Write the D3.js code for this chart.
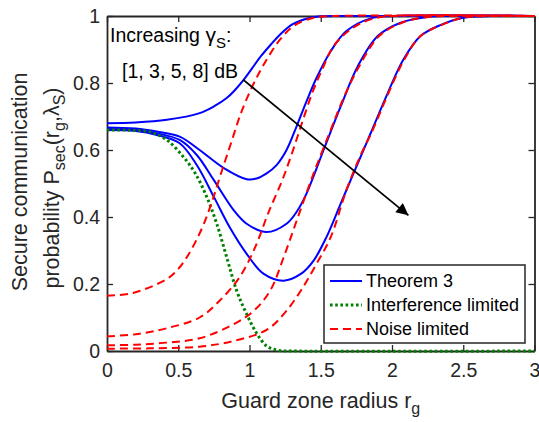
<!DOCTYPE html>
<html>
<head>
<meta charset="utf-8">
<script src="https://cdn.jsdelivr.net/npm/d3@7"></script>
<style>
  body { margin: 0; background: #fff; }
  text { font-family: "Liberation Sans", Arial, Helvetica, sans-serif; }
</style>
</head>
<body>
<div id="chart"></div>
<script>
// values: [guard zone radius r_g, P_sec]
const xTicks = [0, 0.5, 1, 1.5, 2, 2.5, 3];
const yTicks = [0, 0.2, 0.4, 0.6, 0.8, 1];

// Theorem 3, gamma_S = 1, 3, 5, 8 dB
const thm1 = [[0,0.68],[0.2,0.682],[0.42,0.69],[0.65,0.71],[0.75,0.73],[0.84,0.755],[0.9,0.78],[0.96,0.81],[1.02,0.845],[1.08,0.88],[1.15,0.915],[1.215,0.945],[1.3,0.975],[1.4,0.992],[1.5,0.999],[1.7,1],[3,1]];
const thm3 = [[0,0.667],[0.2,0.664],[0.35,0.655],[0.51,0.64],[0.65,0.60],[0.82,0.546],[0.98,0.513],[1.05,0.515],[1.12,0.53],[1.19,0.555],[1.26,0.60],[1.33,0.67],[1.40,0.745],[1.47,0.815],[1.57,0.895],[1.68,0.955],[1.85,0.993],[2.0,1],[3,1]];
const thm5 = [[0,0.663],[0.2,0.66],[0.35,0.65],[0.51,0.63],[0.63,0.585],[0.75,0.51],[0.89,0.42],[0.98,0.38],[1.12,0.355],[1.26,0.38],[1.33,0.415],[1.40,0.47],[1.52,0.60],[1.64,0.73],[1.76,0.85],[1.90,0.94],[2.06,0.98],[2.25,0.997],[2.4,1],[3,1]];
const thm8 = [[0,0.66],[0.2,0.657],[0.35,0.645],[0.51,0.62],[0.63,0.555],[0.75,0.46],[0.86,0.37],[0.98,0.29],[1.10,0.23],[1.24,0.21],[1.36,0.23],[1.45,0.27],[1.54,0.34],[1.64,0.44],[1.73,0.53],[1.80,0.60],[1.85,0.65],[1.97,0.77],[2.08,0.87],[2.2,0.94],[2.34,0.973],[2.5,0.995],[2.7,1],[3,1]];

// interference limited
const interf = [[0,0.66],[0.15,0.659],[0.30,0.654],[0.42,0.63],[0.535,0.58],[0.62,0.53],[0.70,0.46],[0.77,0.38],[0.84,0.28],[0.91,0.18],[0.98,0.11],[1.05,0.053],[1.12,0.015],[1.2,0.002],[1.3,0],[3,0]];

// noise limited
const noise1 = [[0,0.165],[0.18,0.173],[0.42,0.215],[0.5,0.245],[0.56,0.28],[0.62,0.325],[0.68,0.38],[0.74,0.45],[0.8,0.53],[0.87,0.62],[0.94,0.71],[1.02,0.79],[1.1,0.855],[1.215,0.93],[1.31,0.97],[1.45,0.995],[1.6,1],[3,1]];
const noise3 = [[0,0.044],[0.2,0.05],[0.42,0.068],[0.65,0.10],[0.79,0.15],[0.93,0.22],[1.04,0.31],[1.13,0.41],[1.23,0.51],[1.29,0.58],[1.36,0.67],[1.44,0.77],[1.52,0.85],[1.59,0.91],[1.71,0.96],[1.85,0.99],[2.0,1],[3,1]];
const noise5 = [[0,0.017],[0.2,0.019],[0.42,0.025],[0.65,0.038],[0.89,0.08],[1.03,0.12],[1.145,0.18],[1.24,0.28],[1.34,0.40],[1.45,0.53],[1.57,0.66],[1.66,0.755],[1.77,0.85],[1.91,0.94],[2.07,0.98],[2.25,0.997],[2.4,1],[3,1]];
const noise8 = [[0,0.007],[0.3,0.008],[0.65,0.013],[0.89,0.03],[1.12,0.063],[1.24,0.11],[1.36,0.18],[1.47,0.26],[1.57,0.34],[1.68,0.48],[1.78,0.585],[1.86,0.655],[1.97,0.765],[2.08,0.865],[2.2,0.94],[2.34,0.972],[2.5,0.995],[2.7,1],[3,1]];

// arrow annotation, in data units
const arrowFrom = [0.955, 0.81];
const arrowTo = [2.115, 0.405];

const legendItems = [
  { label: "Theorem 3", color: "#0000ff", dash: null, width: 2 },
  { label: "Interference limited", color: "#008000", dash: "2.6,2.6", width: 3 },
  { label: "Noise limited", color: "#ff0000", dash: "8,5", width: 2 }
];

const W = 539, H = 422;
const margin = { top: 16, right: 4.5, bottom: 71, left: 107 },
  width = W - margin.left - margin.right,
  height = H - margin.top - margin.bottom;

const svgRoot = d3.select("#chart").append("svg")
  .attr("width", W).attr("height", H);

const svg = svgRoot.append("g")
  .attr("transform", `translate(${margin.left},${margin.top})`);

const x = d3.scaleLinear().domain([0, 3]).range([0, width]);
const y = d3.scaleLinear().domain([0, 1]).range([height, 0]);

const axisColor = "#262626";
const tickLen = 6;

// axes (ticks inside, box on)
const xAxis = svg.append("g").attr("transform", `translate(0,${height})`)
  .call(d3.axisBottom(x).tickValues(xTicks).tickSizeInner(-tickLen).tickSizeOuter(0).tickPadding(12).tickFormat(d3.format("")));
const xAxisTop = svg.append("g")
  .call(d3.axisTop(x).tickValues(xTicks).tickSizeInner(-tickLen).tickSizeOuter(0).tickFormat(""));
const yAxis = svg.append("g")
  .call(d3.axisLeft(y).tickValues(yTicks).tickSizeInner(-tickLen).tickSizeOuter(0).tickPadding(7).tickFormat(d3.format("")));
const yAxisRight = svg.append("g").attr("transform", `translate(${width},0)`)
  .call(d3.axisRight(y).tickValues(yTicks).tickSizeInner(-tickLen).tickSizeOuter(0).tickFormat(""));

[xAxis, xAxisTop, yAxis, yAxisRight].forEach(a => {
  a.select(".domain").attr("stroke", axisColor).attr("stroke-width", 1.8);
  a.selectAll(".tick line").attr("stroke", axisColor).attr("stroke-width", 1.3);
  a.selectAll(".tick text").attr("fill", axisColor).style("font-size", "19.5px");
});

// curves
const line = d3.line()
  .x(d => x(d[0]))
  .y(d => Math.max(y(1), y(d[1])))
  .curve(d3.curveCatmullRom.alpha(0.5));

const plot = svg.append("g");

[thm1, thm3, thm5, thm8].forEach(s => {
  plot.append("path").datum(s)
    .attr("d", line)
    .attr("fill", "none")
    .attr("stroke", "#0000ff")
    .attr("stroke-width", 2);
});

plot.append("path").datum(interf)
  .attr("d", line)
  .attr("fill", "none")
  .attr("stroke", "#008000")
  .attr("stroke-width", 3)
  .attr("stroke-dasharray", "2.6,2.6");

[noise1, noise3, noise5, noise8].forEach(s => {
  plot.append("path").datum(s)
    .attr("d", line)
    .attr("fill", "none")
    .attr("stroke", "#ff0000")
    .attr("stroke-width", 2)
    .attr("stroke-dasharray", "8,5");
});

// arrow
svgRoot.append("defs").append("marker")
  .attr("id", "head")
  .attr("viewBox", "0 0 10 10")
  .attr("refX", 10).attr("refY", 5)
  .attr("markerUnits", "userSpaceOnUse")
  .attr("markerWidth", 15).attr("markerHeight", 12)
  .attr("orient", "auto")
  .append("path").attr("d", "M0,0 L10,5 L0,10 z").attr("fill", "#000");

svg.append("line")
  .attr("x1", x(arrowFrom[0])).attr("y1", y(arrowFrom[1]))
  .attr("x2", x(arrowTo[0])).attr("y2", y(arrowTo[1]))
  .attr("stroke", "#000").attr("stroke-width", 1.8)
  .attr("marker-end", "url(#head)");

// annotation text
const note = svgRoot.append("text")
  .attr("x", 110).attr("y", 42)
  .style("font-size", "19.5px").attr("fill", "#000");
note.append("tspan").text("Increasing ");
note.append("tspan").text("γ").style("font-size", "21px");
note.append("tspan").text("S").attr("dy", 6).style("font-size", "15px");
note.append("tspan").text(":").attr("dy", -6);

svgRoot.append("text")
  .attr("x", 122).attr("y", 78)
  .style("font-size", "19.5px").attr("fill", "#000")
  .text("[1, 3, 5, 8] dB");

// x label
const xl = svgRoot.append("text")
  .attr("x", margin.left + width / 2).attr("y", 408)
  .attr("text-anchor", "middle")
  .attr("fill", axisColor)
  .style("font-size", "21.5px");
xl.append("tspan").text("Guard zone radius r");
xl.append("tspan").text("g").attr("dy", 6).style("font-size", "16px");

// y label (two lines)
svgRoot.append("text")
  .attr("transform", "translate(27,182) rotate(-90)")
  .attr("text-anchor", "middle")
  .attr("fill", axisColor)
  .style("font-size", "21.5px")
  .text("Secure communication");

const yl2 = svgRoot.append("text")
  .attr("transform", "translate(59,188) rotate(-90)")
  .attr("text-anchor", "middle")
  .attr("fill", axisColor)
  .style("font-size", "21.5px");
yl2.append("tspan").text("probability P");
yl2.append("tspan").text("sec").attr("dy", 6).style("font-size", "16px");
yl2.append("tspan").text("(r").attr("dy", -6);
yl2.append("tspan").text("g").attr("dy", 6).style("font-size", "16px");
yl2.append("tspan").text(",λ").attr("dy", -6);
yl2.append("tspan").text("S").attr("dy", 6).style("font-size", "16px");
yl2.append("tspan").text(")").attr("dy", -6);

// legend
const lg = svgRoot.append("g").attr("transform", "translate(324,265)");
lg.append("rect")
  .attr("width", 201).attr("height", 78)
  .attr("fill", "#fff")
  .attr("stroke", axisColor).attr("stroke-width", 1.5);

legendItems.forEach((d, i) => {
  const yy = 16 + i * 24;
  lg.append("line")
    .attr("x1", 6).attr("x2", 38)
    .attr("y1", yy).attr("y2", yy)
    .attr("stroke", d.color)
    .attr("stroke-width", d.width)
    .attr("stroke-dasharray", d.dash);
  lg.append("text")
    .attr("x", 42).attr("y", yy)
    .attr("dy", "0.35em")
    .attr("fill", "#000")
    .style("font-size", "18px")
    .text(d.label);
});
</script>
</body>
</html>
